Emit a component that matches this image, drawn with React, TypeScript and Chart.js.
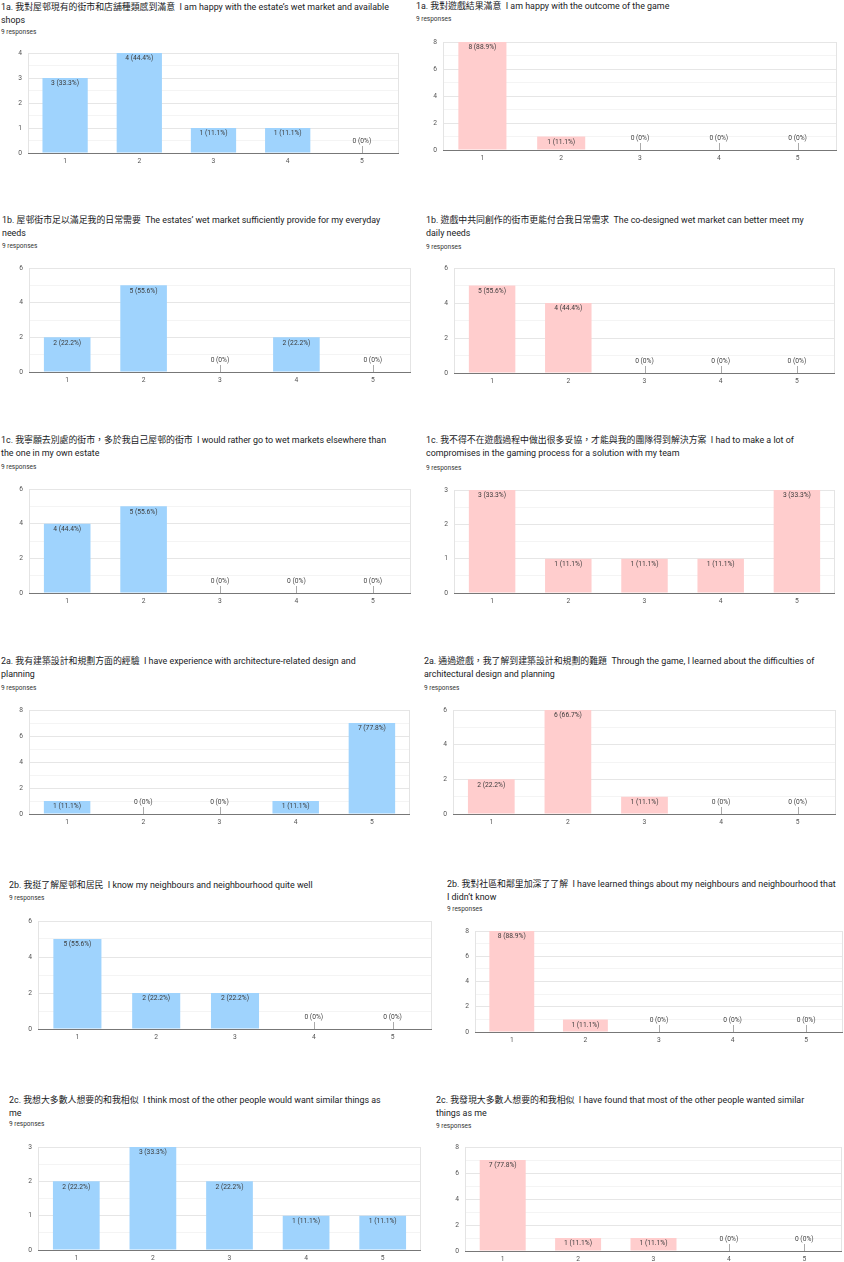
import React, { useEffect, useRef } from 'react';
import { Chart, registerables } from 'chart.js';

Chart.register(...registerables);

// ---- data ----
const categories = ['1', '2', '3', '4', '5'];
const totalResponses = 9;

const estateMarketHappy = [3, 4, 1, 1, 0];
const gameOutcomeHappy = [8, 1, 0, 0, 0];
const estateMarketProvides = [2, 5, 0, 2, 0];
const coDesignedMarketBetter = [5, 4, 0, 0, 0];
const preferElsewhere = [4, 5, 0, 0, 0];
const compromisesMade = [3, 1, 1, 1, 3];
const archExperience = [1, 0, 0, 1, 7];
const learnedDifficulties = [2, 6, 1, 0, 0];
const knowNeighbours = [5, 2, 2, 0, 0];
const learnedNeighbours = [8, 1, 0, 0, 0];
const thinkOthersSimilar = [2, 3, 2, 1, 1];
const foundOthersSimilar = [7, 1, 1, 0, 0];

const yMaxes = [4, 8, 6, 6, 6, 3, 8, 6, 6, 8, 3, 8];
const yMajorSteps = [1, 2, 2, 2, 2, 1, 2, 2, 2, 2, 1, 2];

const titles: string[][] = [
  ['1a. 我對屋邨現有的街市和店舖種類感到滿意  I am happy with the estate\u2019s wet market and available', 'shops'],
  ['1a. 我對遊戲結果滿意  I am happy with the outcome of the game'],
  ['1b. 屋邨街市足以滿足我的日常需要  The estates\u2019 wet market sufficiently provide for my everyday', 'needs'],
  ['1b. 遊戲中共同創作的街市更能付合我日常需求  The co-designed wet market can better meet my', 'daily needs'],
  ['1c. 我寧願去別處的街市，多於我自己屋邨的街市  I would rather go to wet markets elsewhere than', 'the one in my own estate'],
  ['1c. 我不得不在遊戲過程中做出很多妥協，才能與我的團隊得到解決方案  I had to make a lot of', 'compromises in the gaming process for a solution with my team'],
  ['2a. 我有建築設計和規劃方面的經驗  I have experience with architecture-related design and', 'planning'],
  ['2a. 通過遊戲，我了解到建築設計和規劃的難題  Through the game, I learned about the difficulties of', 'architectural design and planning'],
  ['2b. 我挺了解屋邨和居民  I know my neighbours and neighbourhood quite well'],
  ['2b. 我對社區和鄰里加深了了解  I have learned things about my neighbours and neighbourhood that', 'I didn\u2019t know'],
  ['2c. 我想大多數人想要的和我相似  I think most of the other people would want similar things as', 'me'],
  ['2c. 我發現大多數人想要的和我相似  I have found that most of the other people wanted similar', 'things as me'],
];

const seriesList = [
  estateMarketHappy, gameOutcomeHappy,
  estateMarketProvides, coDesignedMarketBetter,
  preferElsewhere, compromisesMade,
  archExperience, learnedDifficulties,
  knowNeighbours, learnedNeighbours,
  thinkOthersSimilar, foundOthersSimilar,
];

// ---- layout (pixels) ----
const BLUE = '#9fd3fd';
const PINK = '#ffcdcd';
const FONT = "Roboto, 'Noto Sans CJK TC', 'Noto Sans', sans-serif";

type Layout = { tx: number; t1: number; r: number; pl: number; pt: number; pr: number; pb: number };
const layouts: Layout[] = [
  { tx: 1, t1: 7, r: 32, pl: 28, pt: 53, pr: 399, pb: 153 },
  { tx: 416, t1: 6, r: 19, pl: 443, pt: 42, pr: 837, pb: 150 },
  { tx: 2, t1: 220, r: 246, pl: 29, pt: 268, pr: 411, pb: 372 },
  { tx: 426, t1: 220, r: 247, pl: 454, pt: 268, pr: 835, pb: 373 },
  { tx: 1, t1: 440, r: 467, pl: 29, pt: 489, pr: 411, pb: 593 },
  { tx: 426, t1: 440, r: 468, pl: 454, pt: 490, pr: 835, pb: 593 },
  { tx: 1, t1: 661, r: 688, pl: 29, pt: 710, pr: 410, pb: 814 },
  { tx: 424, t1: 661, r: 688, pl: 453, pt: 710, pr: 836, pb: 814 },
  { tx: 9, t1: 885, r: 898, pl: 38, pt: 921, pr: 432, pb: 1029 },
  { tx: 447, t1: 884, r: 909, pl: 475, pt: 931, pr: 843, pb: 1032 },
  { tx: 9, t1: 1100, r: 1124, pl: 38, pt: 1147, pr: 421, pb: 1250 },
  { tx: 436, t1: 1100, r: 1126, pl: 465, pt: 1147, pr: 842, pb: 1251 },
];

const YW = 22;
const XH = 16;
const PADT = 12;
const PADR = 2;

const labelPlugin = {
  id: 'gformLabels',
  afterDatasetsDraw(chart: any) {
    const ctx = chart.ctx;
    const meta = chart.getDatasetMeta(0);
    const data = chart.data.datasets[0].data as number[];
    const area = chart.chartArea;
    ctx.save();
    ctx.font = `6.7px ${FONT}`;
    ctx.textAlign = 'center';
    ctx.textBaseline = 'middle';
    meta.data.forEach((bar: any, i: number) => {
      const v = data[i];
      const pct = v === 0 ? '0%' : `${((v / totalResponses) * 100).toFixed(1)}%`;
      const text = `${v} (${pct})`;
      if (v > 0) {
        ctx.fillStyle = '#3c3c3c';
        ctx.fillText(text, bar.x, bar.y + 5.5);
      } else {
        ctx.fillStyle = '#444';
        ctx.fillText(text, bar.x, area.bottom - 11.5);
        ctx.strokeStyle = '#aaa';
        ctx.lineWidth = 1;
        ctx.beginPath();
        ctx.moveTo(Math.round(bar.x) + 0.5, area.bottom - 7);
        ctx.lineTo(Math.round(bar.x) + 0.5, area.bottom);
        ctx.stroke();
      }
    });
    ctx.strokeStyle = '#e4e4e4';
    ctx.lineWidth = 1;
    ctx.beginPath();
    ctx.moveTo(Math.round(area.right) - 0.5, area.top);
    ctx.lineTo(Math.round(area.right) - 0.5, area.bottom);
    ctx.stroke();
    ctx.strokeStyle = '#777';
    ctx.lineWidth = 1.2;
    ctx.beginPath();
    ctx.moveTo(area.left, Math.round(area.bottom) + 0.5);
    ctx.lineTo(area.right, Math.round(area.bottom) + 0.5);
    ctx.stroke();
    ctx.restore();
  },
};

function Panel({ idx }: { idx: number }) {
  const ref = useRef<HTMLCanvasElement>(null);
  const L = layouts[idx];
  const left = L.pl - YW;
  const top = L.pt - PADT;
  const width = L.pr - left + PADR;
  const height = L.pb - top + XH;
  const color = idx % 2 === 0 ? BLUE : PINK;
  const max = yMaxes[idx];
  const major = yMajorSteps[idx];

  useEffect(() => {
    if (!ref.current) return;
    const chart = new Chart(ref.current, {
      type: 'bar',
      data: {
        labels: categories,
        datasets: [
          {
            data: seriesList[idx],
            backgroundColor: color,
            borderWidth: 0,
            barPercentage: 0.61,
            categoryPercentage: 1,
          },
        ],
      },
      options: {
        responsive: false,
        animation: false,
        layout: { padding: { top: PADT, right: PADR, left: 0, bottom: 0 } },
        plugins: { legend: { display: false }, tooltip: { enabled: false } },
        scales: {
          x: {
            grid: { display: false, drawTicks: false },
            border: { display: false },
            ticks: {
              color: '#555',
              font: { family: FONT, size: 6.7 },
              padding: 4,
              maxRotation: 0,
            },
            afterFit: (s: any) => {
              s.height = XH;
            },
          },
          y: {
            min: 0,
            max,
            ticks: {
              stepSize: major / 2,
              color: '#555',
              font: { family: FONT, size: 6.7 },
              padding: 6,
              callback: (v: any) => (Number(v) % major === 0 ? String(v) : ''),
            },
            grid: {
              drawTicks: false,
              color: (c: any) => {
                const v = c.tick ? c.tick.value : 0;
                if (v === 0) return 'rgba(0,0,0,0)';
                return v % major === 0 ? '#e6e6e6' : '#f4f4f4';
              },
            },
            border: { display: true, color: '#e4e4e4' },
            afterFit: (s: any) => {
              s.width = YW;
            },
          },
        },
      },
      plugins: [labelPlugin],
    });
    return () => chart.destroy();
  }, [idx]);

  const lines = titles[idx];
  return (
    <>
      <div
        style={{
          position: 'absolute',
          left: L.tx,
          top: L.t1 - 6.5,
          fontFamily: FONT,
          fontSize: 8.9,
          lineHeight: '13.5px',
          color: '#202124',
          whiteSpace: 'pre',
        }}
      >
        {lines.map((l, i) => (
          <div key={i}>{l}</div>
        ))}
      </div>
      <div
        style={{
          position: 'absolute',
          left: L.tx,
          top: L.r - 4.5,
          fontFamily: FONT,
          fontSize: 6.5,
          lineHeight: '9px',
          color: '#333',
          whiteSpace: 'nowrap',
        }}
      >
        {`${totalResponses} responses`}
      </div>
      <canvas
        ref={ref}
        width={width}
        height={height}
        style={{ position: 'absolute', left, top, width, height }}
      />
    </>
  );
}

export default function App() {
  return (
    <div
      style={{
        position: 'absolute',
        left: 0,
        top: 0,
        width: 844,
        height: 1262,
        background: '#fff',
        overflow: 'hidden',
      }}
    >
      {layouts.map((_, i) => (
        <Panel key={i} idx={i} />
      ))}
    </div>
  );
}
